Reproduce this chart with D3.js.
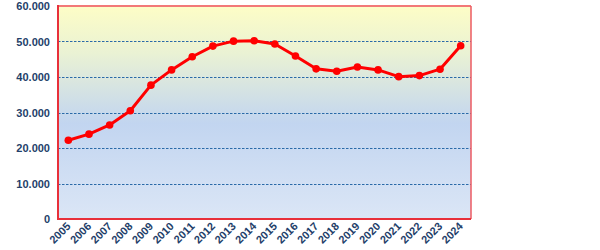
<!DOCTYPE html>
<html><head><meta charset="utf-8">
<script src="https://cdn.jsdelivr.net/npm/d3@7"></script>
<style>body{margin:0;background:#fff}svg{display:block}</style>
</head><body>
<svg id="c" width="600" height="250"></svg>
<script>
const years = ["2005","2006","2007","2008","2009","2010","2011","2012","2013","2014","2015","2016","2017","2018","2019","2020","2021","2022","2023","2024"];
const values = [22200,23900,26500,30500,37700,42000,45700,48700,50100,50200,49300,45900,42300,41600,42800,42000,40100,40400,42200,48800];
const yTicks = [0,10000,20000,30000,40000,50000,60000];

const svg = d3.select("#c");
const m = {l:58, r:129, t:6, b:31};
const W = 600, H = 250;
const x = d3.scaleBand().domain(years).range([m.l, W-m.r]);
const y = d3.scaleLinear().domain([0,60000]).range([H-m.b, m.t]);

const defs = svg.append("defs");
const g = defs.append("linearGradient").attr("id","bg").attr("x1",0).attr("y1",0).attr("x2",0).attr("y2",1);
g.append("stop").attr("offset","0%").attr("stop-color","#fdfdc6");
g.append("stop").attr("offset","22%").attr("stop-color","#eaf2d4");
g.append("stop").attr("offset","55%").attr("stop-color","#c2d5f0");
g.append("stop").attr("offset","100%").attr("stop-color","#dbe6f6");

svg.append("rect").attr("x",m.l).attr("y",m.t).attr("width",W-m.l-m.r).attr("height",H-m.t-m.b).attr("fill","url(#bg)");

const fmt = d => d===0 ? "0" : d3.format(",")(d).replace(/,/g,".");

svg.append("g").selectAll("line").data(yTicks.filter(d=>d>0 && d<60000)).join("line")
  .attr("x1",m.l).attr("x2",W-m.r).attr("y1",d=>Math.round(y(d))+0.5).attr("y2",d=>Math.round(y(d))+0.5)
  .attr("stroke","#2a6aa8").attr("stroke-width",1).attr("stroke-dasharray","2.5,1.5");

const yAxis = svg.append("g").attr("transform",`translate(${m.l},0)`)
  .call(d3.axisLeft(y).tickValues(yTicks).tickFormat(fmt).tickSize(0).tickPadding(8));
yAxis.select(".domain").remove();
yAxis.selectAll("text").attr("font-family","Liberation Sans, Arial, sans-serif").attr("font-weight","bold")
  .attr("font-size","11px").attr("fill","#1f3f6a");

const xAxis = svg.append("g").attr("transform",`translate(0,${H-m.b})`)
  .call(d3.axisBottom(x).tickSize(0).tickPadding(0));
xAxis.select(".domain").remove();
xAxis.selectAll("text").attr("font-family","Liberation Sans, Arial, sans-serif").attr("font-weight","bold")
  .attr("font-size","11px").attr("fill","#1f3f6a")
  .attr("text-anchor","end").attr("dy",null).attr("y",0)
  .attr("transform","translate(3,8) rotate(-45)");

// borders
svg.append("line").attr("x1",m.l).attr("x2",W-m.r).attr("y1",m.t).attr("y2",m.t).attr("stroke","#f27878").attr("stroke-width",2);
svg.append("line").attr("x1",W-m.r).attr("x2",W-m.r).attr("y1",m.t).attr("y2",H-m.b).attr("stroke","#ec5a62").attr("stroke-width",1.5);
svg.append("line").attr("x1",m.l).attr("x2",m.l).attr("y1",m.t-1).attr("y2",H-m.b+1).attr("stroke","#e8303a").attr("stroke-width",2);
svg.append("line").attr("x1",m.l-1).attr("x2",W-m.r).attr("y1",H-m.b).attr("y2",H-m.b).attr("stroke","#e8303a").attr("stroke-width",2);

const cx = d => x(d) + x.bandwidth()/2;
svg.append("path").datum(years.map((d,i)=>[d,values[i]]))
  .attr("fill","none").attr("stroke","#ff0000").attr("stroke-width",3).attr("stroke-linejoin","round")
  .attr("d", d3.line().x(d=>cx(d[0])).y(d=>y(d[1])));
svg.append("g").selectAll("circle").data(years.map((d,i)=>[d,values[i]])).join("circle")
  .attr("cx",d=>cx(d[0])).attr("cy",d=>y(d[1])).attr("r",3.8).attr("fill","#ff0000");
</script>
</body></html>
